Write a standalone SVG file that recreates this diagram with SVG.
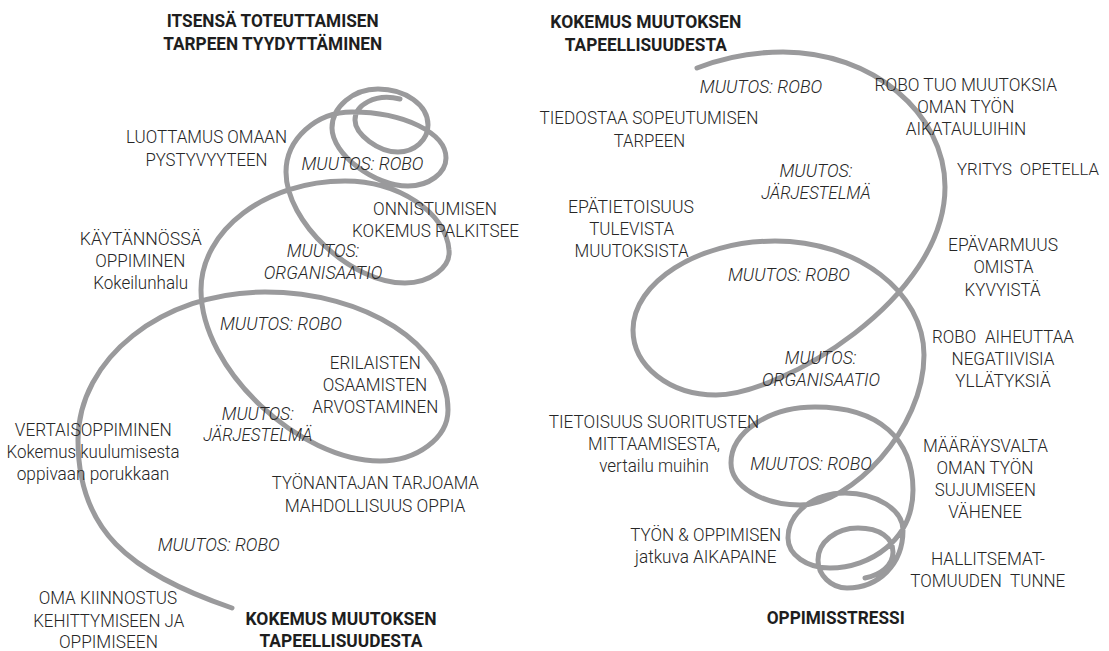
<svg xmlns="http://www.w3.org/2000/svg" width="1109" height="651" viewBox="0 0 1109 651">
<style>
text{font-family:Roboto,"Liberation Sans",Arial,sans-serif;font-size:18.5px;font-weight:300;fill:#262626;text-anchor:middle}
.b{font-weight:bold;fill:#1e1e1e}
.i{font-style:italic}
.sp{fill:none;stroke:#9a9a9c;stroke-width:5;stroke-linecap:round;stroke-linejoin:round}
</style>
<rect width="1109" height="651" fill="#ffffff"/>
<g id="connectors">
<path id="spiral-left" class="sp" d="M 232 608 C 128 572 78 530 78 440 C 78 359 162 292 265 292 C 366 292 448 345 448 410 C 448 438 417 461 380 461 C 300 461 201 370 201 290 C 201 230 266 181 345 181 C 398 181 446 212 449 250 C 451 268 429 283 405 283 C 351 283 286 222 286 172 C 286 139 316 112 352 112 C 404 112 446 133 446 158 C 446 173 429 186 408 186 C 374 186 332 154 332 128 C 332 107 353 89 378 89 C 405.5 89 428 105 428 125 C 428 140 414.5 152 398 152 C 378.6 152 355 134.4 355 120 C 355 105 375 93 400 99"/>
<path id="spiral-right" class="sp" d="M 697 68 C 725 57 755 52 783 52 C 872 52 945 113 945 187 C 945 300 780 395 716 395 C 669.5 395 633 366 633 330 C 633 283 697 241 775 241 C 857 241 924 292 924 355 C 924 430 850 505 800 505 C 762 505 731 486 731 463 C 731 432 769 407 815 407 C 880 407 913 440 913 490 C 913 540 870 568 830 568 C 807 568 788 555 788 538 C 788 513 814 493 845 493 C 877 493 903 510 903 530 C 903 565 878 588 847 588 C 831 588 818 575 818 560 C 818 542 836 528 858 528 C 880 528 893 538 893 552 C 893 566 880 575 865 578"/>
</g>
<g id="title-top-left">
<text class="b" x="272.7" y="27" textLength="212" lengthAdjust="spacingAndGlyphs">ITSENSÄ TOTEUTTAMISEN</text>
<text class="b" x="272.7" y="50" textLength="219" lengthAdjust="spacingAndGlyphs">TARPEEN TYYDYTTÄMINEN</text>
</g>
<g id="luottamus">
<text x="206.5" y="143" textLength="161" lengthAdjust="spacingAndGlyphs">LUOTTAMUS OMAAN</text>
<text x="206.4" y="166" textLength="122" lengthAdjust="spacingAndGlyphs">PYSTYVYYTEEN</text>
</g>
<g id="l-robo-1"><text class="i" x="362.5" y="170" textLength="122" lengthAdjust="spacingAndGlyphs">MUUTOS: ROBO</text></g>
<g id="onnistumisen">
<text x="435" y="215" textLength="124" lengthAdjust="spacingAndGlyphs">ONNISTUMISEN</text>
<text x="435.5" y="237" textLength="167" lengthAdjust="spacingAndGlyphs">KOKEMUS PALKITSEE</text>
</g>
<g id="kaytannossa">
<text x="140.8" y="245" textLength="122" lengthAdjust="spacingAndGlyphs">KÄYTÄNNÖSSÄ</text>
<text x="140.3" y="267" textLength="90" lengthAdjust="spacingAndGlyphs">OPPIMINEN</text>
<text x="140.7" y="289" textLength="95" lengthAdjust="spacingAndGlyphs">Kokeilunhalu</text>
</g>
<g id="l-organisaatio">
<text class="i" x="323" y="257" textLength="72.6" lengthAdjust="spacingAndGlyphs">MUUTOS:</text>
<text class="i" x="323" y="279" textLength="118.5" lengthAdjust="spacingAndGlyphs">ORGANISAATIO</text>
</g>
<g id="l-robo-2"><text class="i" x="281" y="330" textLength="122" lengthAdjust="spacingAndGlyphs">MUUTOS: ROBO</text></g>
<g id="erilaisten">
<text x="375.3" y="369" textLength="91" lengthAdjust="spacingAndGlyphs">ERILAISTEN</text>
<text x="375" y="391" textLength="104.5" lengthAdjust="spacingAndGlyphs">OSAAMISTEN</text>
<text x="375.3" y="413" textLength="126" lengthAdjust="spacingAndGlyphs">ARVOSTAMINEN</text>
</g>
<g id="l-jarjestelma">
<text class="i" x="257.8" y="420" textLength="72" lengthAdjust="spacingAndGlyphs">MUUTOS:</text>
<text class="i" x="257.8" y="441" textLength="109" lengthAdjust="spacingAndGlyphs">JÄRJESTELMÄ</text>
</g>
<g id="vertaisoppiminen">
<text x="93.3" y="436" textLength="157" lengthAdjust="spacingAndGlyphs">VERTAISOPPIMINEN</text>
<text x="93" y="458" textLength="173" lengthAdjust="spacingAndGlyphs">Kokemus kuulumisesta</text>
<text x="93" y="480" textLength="152.6" lengthAdjust="spacingAndGlyphs">oppivaan porukkaan</text>
</g>
<g id="tyonantajan">
<text x="375.3" y="489" textLength="207" lengthAdjust="spacingAndGlyphs">TYÖNANTAJAN TARJOAMA</text>
<text x="375" y="512" textLength="180.6" lengthAdjust="spacingAndGlyphs">MAHDOLLISUUS OPPIA</text>
</g>
<g id="l-robo-3"><text class="i" x="218.7" y="551" textLength="122" lengthAdjust="spacingAndGlyphs">MUUTOS: ROBO</text></g>
<g id="oma-kiinnostus">
<text x="107.9" y="604" textLength="138.5" lengthAdjust="spacingAndGlyphs">OMA KIINNOSTUS</text>
<text x="108.7" y="627" textLength="151" lengthAdjust="spacingAndGlyphs">KEHITTYMISEEN JA</text>
<text x="108.4" y="648" textLength="99" lengthAdjust="spacingAndGlyphs">OPPIMISEEN</text>
</g>
<g id="title-bottom-left">
<text class="b" x="341" y="625" textLength="191" lengthAdjust="spacingAndGlyphs">KOKEMUS MUUTOKSEN</text>
<text class="b" x="341" y="647" textLength="163" lengthAdjust="spacingAndGlyphs">TAPEELLISUUDESTA</text>
</g>
<g id="title-top-right">
<text class="b" x="645.8" y="28" textLength="191" lengthAdjust="spacingAndGlyphs">KOKEMUS MUUTOKSEN</text>
<text class="b" x="645.8" y="51" textLength="162" lengthAdjust="spacingAndGlyphs">TAPEELLISUUDESTA</text>
</g>
<g id="r-robo-1"><text class="i" x="761" y="93" textLength="122.6" lengthAdjust="spacingAndGlyphs">MUUTOS: ROBO</text></g>
<g id="robo-tuo">
<text x="965.8" y="91" textLength="182.5" lengthAdjust="spacingAndGlyphs">ROBO TUO MUUTOKSIA</text>
<text x="965.8" y="113" textLength="97" lengthAdjust="spacingAndGlyphs">OMAN TYÖN</text>
<text x="966" y="135" textLength="120.5" lengthAdjust="spacingAndGlyphs">AIKATAULUIHIN</text>
</g>
<g id="tiedostaa">
<text x="649" y="124" textLength="219" lengthAdjust="spacingAndGlyphs">TIEDOSTAA SOPEUTUMISEN</text>
<text x="649.4" y="147" textLength="71.5" lengthAdjust="spacingAndGlyphs">TARPEEN</text>
</g>
<g id="yritys"><text x="1028" y="175" textLength="142" lengthAdjust="spacingAndGlyphs" style="font-size:17px" word-spacing="4">YRITYS OPETELLA</text></g>
<g id="r-jarjestelma">
<text class="i" x="816" y="177" textLength="73" lengthAdjust="spacingAndGlyphs">MUUTOS:</text>
<text class="i" x="816" y="199" textLength="109.6" lengthAdjust="spacingAndGlyphs">JÄRJESTELMÄ</text>
</g>
<g id="epatietoisuus">
<text x="631" y="213" textLength="126" lengthAdjust="spacingAndGlyphs">EPÄTIETOISUUS</text>
<text x="631.7" y="235" textLength="85" lengthAdjust="spacingAndGlyphs">TULEVISTA</text>
<text x="631.6" y="257" textLength="114" lengthAdjust="spacingAndGlyphs">MUUTOKSISTA</text>
</g>
<g id="epavarmuus">
<text x="1003" y="251" textLength="110" lengthAdjust="spacingAndGlyphs">EPÄVARMUUS</text>
<text x="1003.5" y="273" textLength="60" lengthAdjust="spacingAndGlyphs">OMISTA</text>
<text x="1002.6" y="296" textLength="76" lengthAdjust="spacingAndGlyphs">KYVYISTÄ</text>
</g>
<g id="r-robo-2"><text class="i" x="789" y="281" textLength="122" lengthAdjust="spacingAndGlyphs">MUUTOS: ROBO</text></g>
<g id="robo-aiheuttaa">
<text x="1003" y="343" textLength="142" lengthAdjust="spacingAndGlyphs" word-spacing="5">ROBO AIHEUTTAA</text>
<text x="1003" y="365" textLength="103" lengthAdjust="spacingAndGlyphs">NEGATIIVISIA</text>
<text x="1003" y="387" textLength="95.4" lengthAdjust="spacingAndGlyphs">YLLÄTYKSIÄ</text>
</g>
<g id="r-organisaatio">
<text class="i" x="820.6" y="364" textLength="71.5" lengthAdjust="spacingAndGlyphs">MUUTOS:</text>
<text class="i" x="821" y="386" textLength="118" lengthAdjust="spacingAndGlyphs">ORGANISAATIO</text>
</g>
<g id="tietoisuus">
<text x="654" y="428" textLength="210.5" lengthAdjust="spacingAndGlyphs">TIETOISUUS SUORITUSTEN</text>
<text x="654" y="450" textLength="132" lengthAdjust="spacingAndGlyphs">MITTAAMISESTA,</text>
<text x="654" y="472" textLength="109.6" lengthAdjust="spacingAndGlyphs">vertailu muihin</text>
</g>
<g id="r-robo-3"><text class="i" x="811" y="470" textLength="121.6" lengthAdjust="spacingAndGlyphs">MUUTOS: ROBO</text></g>
<g id="maaraysvalta">
<text x="985.4" y="452" textLength="125" lengthAdjust="spacingAndGlyphs">MÄÄRÄYSVALTA</text>
<text x="985" y="474" textLength="97" lengthAdjust="spacingAndGlyphs">OMAN TYÖN</text>
<text x="985.3" y="496" textLength="101" lengthAdjust="spacingAndGlyphs">SUJUMISEEN</text>
<text x="985" y="518" textLength="73.7" lengthAdjust="spacingAndGlyphs">VÄHENEE</text>
</g>
<g id="tyon-oppimisen">
<text x="705.7" y="541" textLength="151" lengthAdjust="spacingAndGlyphs">TYÖN &amp; OPPIMISEN</text>
<text x="705.8" y="563" textLength="141.5" lengthAdjust="spacingAndGlyphs">jatkuva AIKAPAINE</text>
</g>
<g id="hallitsemattomuus">
<text x="988" y="565" textLength="114" lengthAdjust="spacingAndGlyphs">HALLITSEMAT-</text>
<text x="987.8" y="587" textLength="155" lengthAdjust="spacingAndGlyphs" word-spacing="5">TOMUUDEN TUNNE</text>
</g>
<g id="oppimisstressi"><text class="b" x="835.7" y="624" textLength="138" lengthAdjust="spacingAndGlyphs">OPPIMISSTRESSI</text></g>
</svg>
